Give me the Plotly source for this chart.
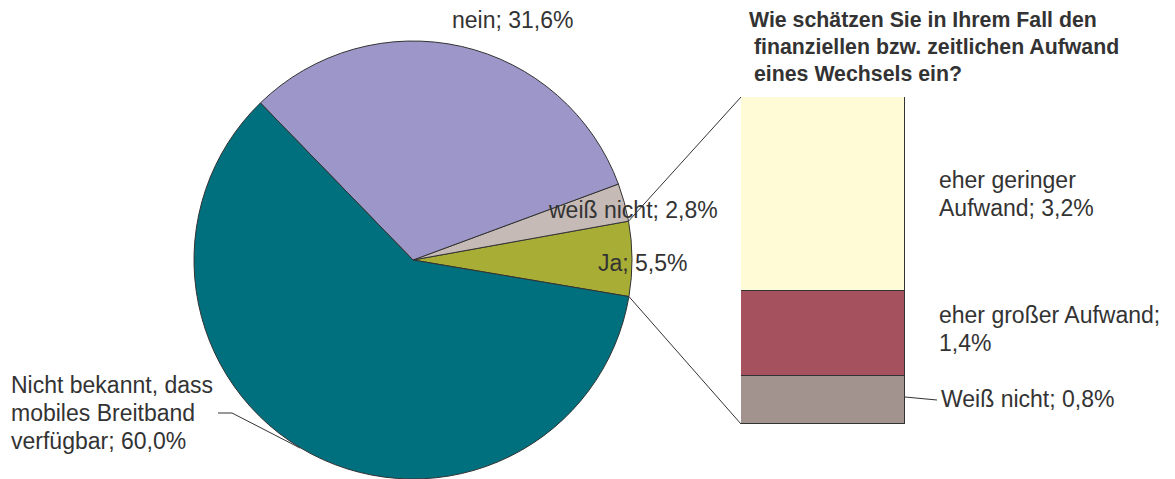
import numpy as np
import plotly.graph_objects as go

W, H = 1175, 479

# ---- data ----
pie_labels = ["Ja", "weiß nicht", "nein", "Nicht bekannt, dass mobiles Breitband verfügbar"]
pie_values = [5.5, 2.8, 31.6, 60.0]
pie_colors = ["#A8AE35", "#C5BAB6", "#9D96C8", "#00707E"]

bar_labels = ["Weiß nicht", "eher großer Aufwand", "eher geringer Aufwand"]
bar_values = [0.8, 1.4, 3.2]
bar_colors = ["#A3938E", "#A6525E", "#FFFBD6"]

title_lines = ["Wie schätzen Sie in Ihrem Fall den",
               "finanziellen bzw. zeitlichen Aufwand",
               "eines Wechsels ein?"]

TXT = "#333333"
FONT = "Liberation Sans, Arial, sans-serif"


def px(x):
    return x / W


def py(y):
    return 1 - y / H


# ---- geometry ----
pie_x0, pie_x1 = 194, 632
pie_top = 41
r = (pie_x1 - pie_x0) / 2
cx = (pie_x0 + pie_x1) / 2
cy = H - r

ja_deg = pie_values[0] / sum(pie_values) * 360
# first slice (Ja) spans [rotation, rotation + ja_deg] clockwise from 12 o'clock
rotation = 90 - ja_deg / 2 - 0.3

bar_x0, bar_x1 = 741, 905
bar_top, bar_bot = 97, 424

fig = go.Figure()
fig.add_trace(go.Pie(
    labels=pie_labels, values=pie_values, sort=False,
    direction="counterclockwise", rotation=rotation,
    marker=dict(colors=pie_colors, line=dict(color="#333333", width=1)),
    textinfo="none", showlegend=False, hoverinfo="label+percent",
    domain=dict(x=[px(pie_x0), px(pie_x1)], y=[0, py(pie_top)]),
))

for lab, val, col in zip(bar_labels, bar_values, bar_colors):
    fig.add_trace(go.Bar(
        x=[0], y=[val], name=lab, width=1,
        marker=dict(color=col, line=dict(color="#333333", width=1.3)),
        showlegend=False, xaxis="x", yaxis="y",
    ))

total = sum(bar_values)

# connector lines from the "Ja" slice edges to the bar
a_up = np.deg2rad(rotation)
a_lo = np.deg2rad(rotation + ja_deg)
p_up = (cx + r * np.sin(a_up), cy - r * np.cos(a_up))
p_lo = (cx + r * np.sin(a_lo), cy - r * np.cos(a_lo))

LC = "#333333"
shapes = [
    dict(type="line", xref="paper", yref="paper",
         x0=px(p_up[0]), y0=py(p_up[1]), x1=px(bar_x0), y1=py(bar_top),
         line=dict(color=LC, width=1)),
    dict(type="line", xref="paper", yref="paper",
         x0=px(p_lo[0]), y0=py(p_lo[1]), x1=px(bar_x0), y1=py(bar_bot),
         line=dict(color=LC, width=1)),
    # leader for 60% label
    dict(type="path", xref="paper", yref="paper",
         path=f"M {px(218)} {py(413)} L {px(232)} {py(413)} L {px(300)} {py(448)}",
         line=dict(color=LC, width=1)),
    # leader for Weiß nicht (bar)
    dict(type="line", xref="paper", yref="paper",
         x0=px(905), y0=py(397), x1=px(937), y1=py(400),
         line=dict(color=LC, width=1)),
]

annotations = []


def add_text(lines, x, y_first, size=23, bold=False, step=28, indent=0):
    for i, line in enumerate(lines):
        t = f"<b>{line}</b>" if bold else line
        annotations.append(dict(
            text=t, x=px(x + (indent if i > 0 else 0)), y=py(y_first + i * step),
            xref="paper", yref="paper", xanchor="left", yanchor="middle",
            showarrow=False, font=dict(family=FONT, size=size, color=TXT)))


add_text(["nein; 31,6%"], 450, 20)
add_text(["weiß nicht; 2,8%"], 546, 210)
add_text(["Ja; 5,5%"], 596, 263)
add_text(["Nicht bekannt, dass", "mobiles Breitband", "verfügbar; 60,0%"], 9, 385)
add_text(title_lines, 747, 20, size=21.3, bold=True, step=27, indent=5)
add_text(["eher geringer", "Aufwand; 3,2%"], 937, 180)
add_text(["eher großer Aufwand;", "1,4%"], 937, 315)
add_text(["Weiß nicht; 0,8%"], 939, 399)

fig.update_layout(
    width=W, height=H,
    margin=dict(l=0, r=0, t=0, b=0),
    paper_bgcolor="white", plot_bgcolor="white",
    barmode="stack", bargap=0,
    xaxis=dict(domain=[px(bar_x0), px(bar_x1)], range=[-0.5, 0.5],
               visible=False, fixedrange=True),
    yaxis=dict(domain=[py(bar_bot), py(bar_top)], range=[0, total],
               visible=False, fixedrange=True),
    shapes=shapes, annotations=annotations,
    font=dict(family=FONT, color=TXT),
)

fig.write_html("out.html", config={"displayModeBar": False},
               post_script="document.body.style.margin='0';document.body.style.overflow='hidden';")
